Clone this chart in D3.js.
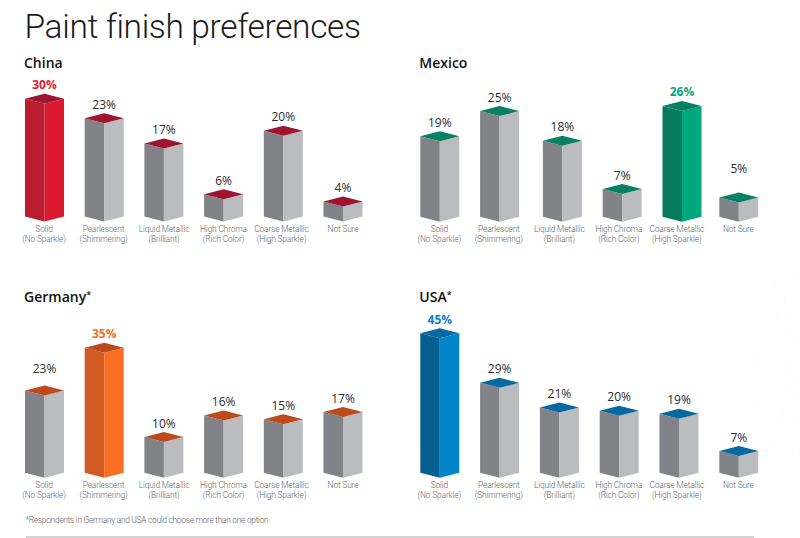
<!DOCTYPE html>
<html>
<head>
<meta charset="utf-8">
<script src="https://cdn.jsdelivr.net/npm/d3@7/dist/d3.min.js"></script>
<style>
html,body{margin:0;padding:0;background:#fff;}
svg{display:block;}
text{font-family:"Open Sans",sans-serif;}
.rb{font-family:Roboto,sans-serif;}
</style>
</head>
<body>
<svg id="chart" width="800" height="538"></svg>
<script>
// ---- data ----
const categories = ["Solid","Pearlescent","Liquid Metallic","High Chroma","Coarse Metallic","Not Sure"];
const categoryNotes = ["(No Sparkle)","(Shimmering)","(Brilliant)","(Rich Color)","(High Sparkle)",""];
const chinaValues   = [30,23,17,6,20,4];
const mexicoValues  = [19,25,18,7,26,5];
const germanyValues = [23,35,10,16,15,17];
const usaValues     = [45,29,21,20,19,7];
// The reference draws a few bars shorter than their printed label; these are the heights as drawn.
const chinaDrawn    = [27.6,23,17.1,5.2,20.1,3.5];
const mexicoDrawn   = [18.9,24.8,17.8,6.5,26,4.5];
const germanyDrawn  = [23,35,10,16,15,17];
const usaDrawn      = [45,29,21,20,19,7];
const speckles = [[788,332],[790,315],[777,317],[788,363],[770,360],[778,352],[763,368],[788,370],[795,380],[790,387],[798,397],[770,400],[757,403],[783,413],[795,417],[778,423],[797,343],[753,360],[785,300],[792,290],[775,285],[796,278],[768,330],[782,440],[793,455],[770,445]];

// ---- layout and style ----
const panels = [
 {name:"China",  star:false,values:chinaValues,  drawn:chinaDrawn,  hi:0,left:25,   right:323.5,nudge:[0,0,0,0,0,0],lift:[0,0,0,0,0,0], base:216.5,pxPer:4.27,titleY:67.7,noteY:229.7,top:"#9f1530",dark:"#bb1d30",light:"#dc1a2f",text:"#e01b2f"},
 {name:"Mexico", star:false,values:mexicoValues, drawn:mexicoDrawn, hi:4,left:420.3,right:719.3,nudge:[0,0,3,3,3,0],lift:[0,0,0,0,0,15],base:216.7,pxPer:4.26,titleY:67.7,noteY:229.5,top:"#0a8062",dark:"#067a5c",light:"#00a97d",text:"#00a97d"},
 {name:"Germany",star:true, values:germanyValues,drawn:germanyDrawn,hi:1,left:25,   right:323.5,nudge:[0,0,0,0,0,0],lift:[8,0,0,0,0,0], base:472.7,pxPer:3.57,titleY:301.7,noteY:485.3,top:"#bd4a1d",dark:"#d05b23",light:"#f96e20",text:"#f96e20"},
 {name:"USA",    star:true, values:usaValues,    drawn:usaDrawn,    hi:0,left:420.3,right:719.3,nudge:[0,0,0,0,0,0],lift:[0,0,0,0,0,0], base:472.7,pxPer:3.1, titleY:302,  noteY:485.3,top:"#06699f",dark:"#05608f",light:"#0086c8",text:"#0a80c8"}
];
const barWidth = 39, slant = 5;
const noteOffsets = [19,78.5,139,198.5,256.5,318];
const greyDark = "#828388", greyLight = "#bbbcc0";

const svg = d3.select("#chart");
const pts = a => a.map(p => p.join(",")).join(" ");

svg.append("g").selectAll("circle").data(speckles).join("circle")
  .attr("cx",d=>d[0]).attr("cy",d=>d[1]).attr("r",0.7).attr("fill","#eeeeee");

svg.append("text").attr("class","rb").attr("x",24.5).attr("y",38.3)
  .attr("font-size",33.5).attr("font-weight",300).attr("letter-spacing",-0.35).attr("fill","#1c1c1e")
  .text("Paint finish preferences");

panels.forEach(p => {
  const g = svg.append("g");
  const x = d3.scalePoint().domain(categories).range([p.left,p.right]);
  const noteX = d3.scaleOrdinal(categories, noteOffsets.map(o => p.left + o));
  const h = d3.scaleLinear().domain([0,50]).range([0,50*p.pxPer]);
  const y = v => p.base - h(v);

  const title = g.append("text").attr("x",p.left-1).attr("y",p.titleY)
    .attr("font-size",14).attr("font-weight",600).attr("fill","#111").text(p.name);
  if (p.star) title.append("tspan").attr("dy",-4).attr("font-size",9).text("*");

  const rows = categories.map((c,i)=>({c,i,v:p.values[i],d:p.drawn[i]}));
  const bar = g.selectAll("g.bar").data(rows).join("g").attr("class","bar");
  const L = d => x(d.c) + p.nudge[d.i];
  const C = d => L(d) + barWidth/2;
  const R = d => L(d) + barWidth;

  bar.append("polygon").attr("fill",d=>d.i===p.hi?p.dark:greyDark)
    .attr("points",d=>pts([[L(d),y(d.d)],[C(d),y(d.d)+slant],[C(d),p.base+slant],[L(d),p.base]]));
  bar.append("polygon").attr("fill",d=>d.i===p.hi?p.light:greyLight)
    .attr("points",d=>pts([[C(d),y(d.d)+slant],[R(d),y(d.d)],[R(d),p.base],[C(d),p.base+slant]]));
  bar.append("polygon").attr("fill",p.top)
    .attr("points",d=>pts([[L(d),y(d.d)],[C(d),y(d.d)-slant],[R(d),y(d.d)],[C(d),y(d.d)+slant]]));

  bar.append("text").attr("x",C).attr("y",d=>y(d.d)-9.5-p.lift[d.i])
    .attr("text-anchor","middle").attr("font-size",12)
    .attr("font-weight",d=>d.i===p.hi?700:400)
    .attr("fill",d=>d.i===p.hi?p.text:"#2b2b2e").text(d=>d.v+"%");

  const lab = bar.append("text").attr("class","rb").attr("text-anchor","middle").attr("font-size",8.4)
    .attr("letter-spacing",-0.15).attr("font-weight",300).attr("fill","#66676b");
  lab.append("tspan").attr("x",d=>noteX(d.c)).attr("y",p.noteY+2.7).text(d=>d.c);
  lab.append("tspan").attr("x",d=>noteX(d.c)).attr("y",p.noteY+12.7).text(d=>categoryNotes[d.i]);
});

svg.append("text").attr("class","rb").attr("x",25.5).attr("y",522.5).attr("font-size",8.4)
  .attr("letter-spacing",-0.28).attr("font-weight",300)
  .attr("fill","#5f6063").text("*Respondents in Germany and USA could choose more than one option");
svg.append("line").attr("x1",26).attr("x2",754).attr("y1",537).attr("y2",537)
  .attr("stroke","#a9a9ab").attr("stroke-width",1);
</script>
</body>
</html>
